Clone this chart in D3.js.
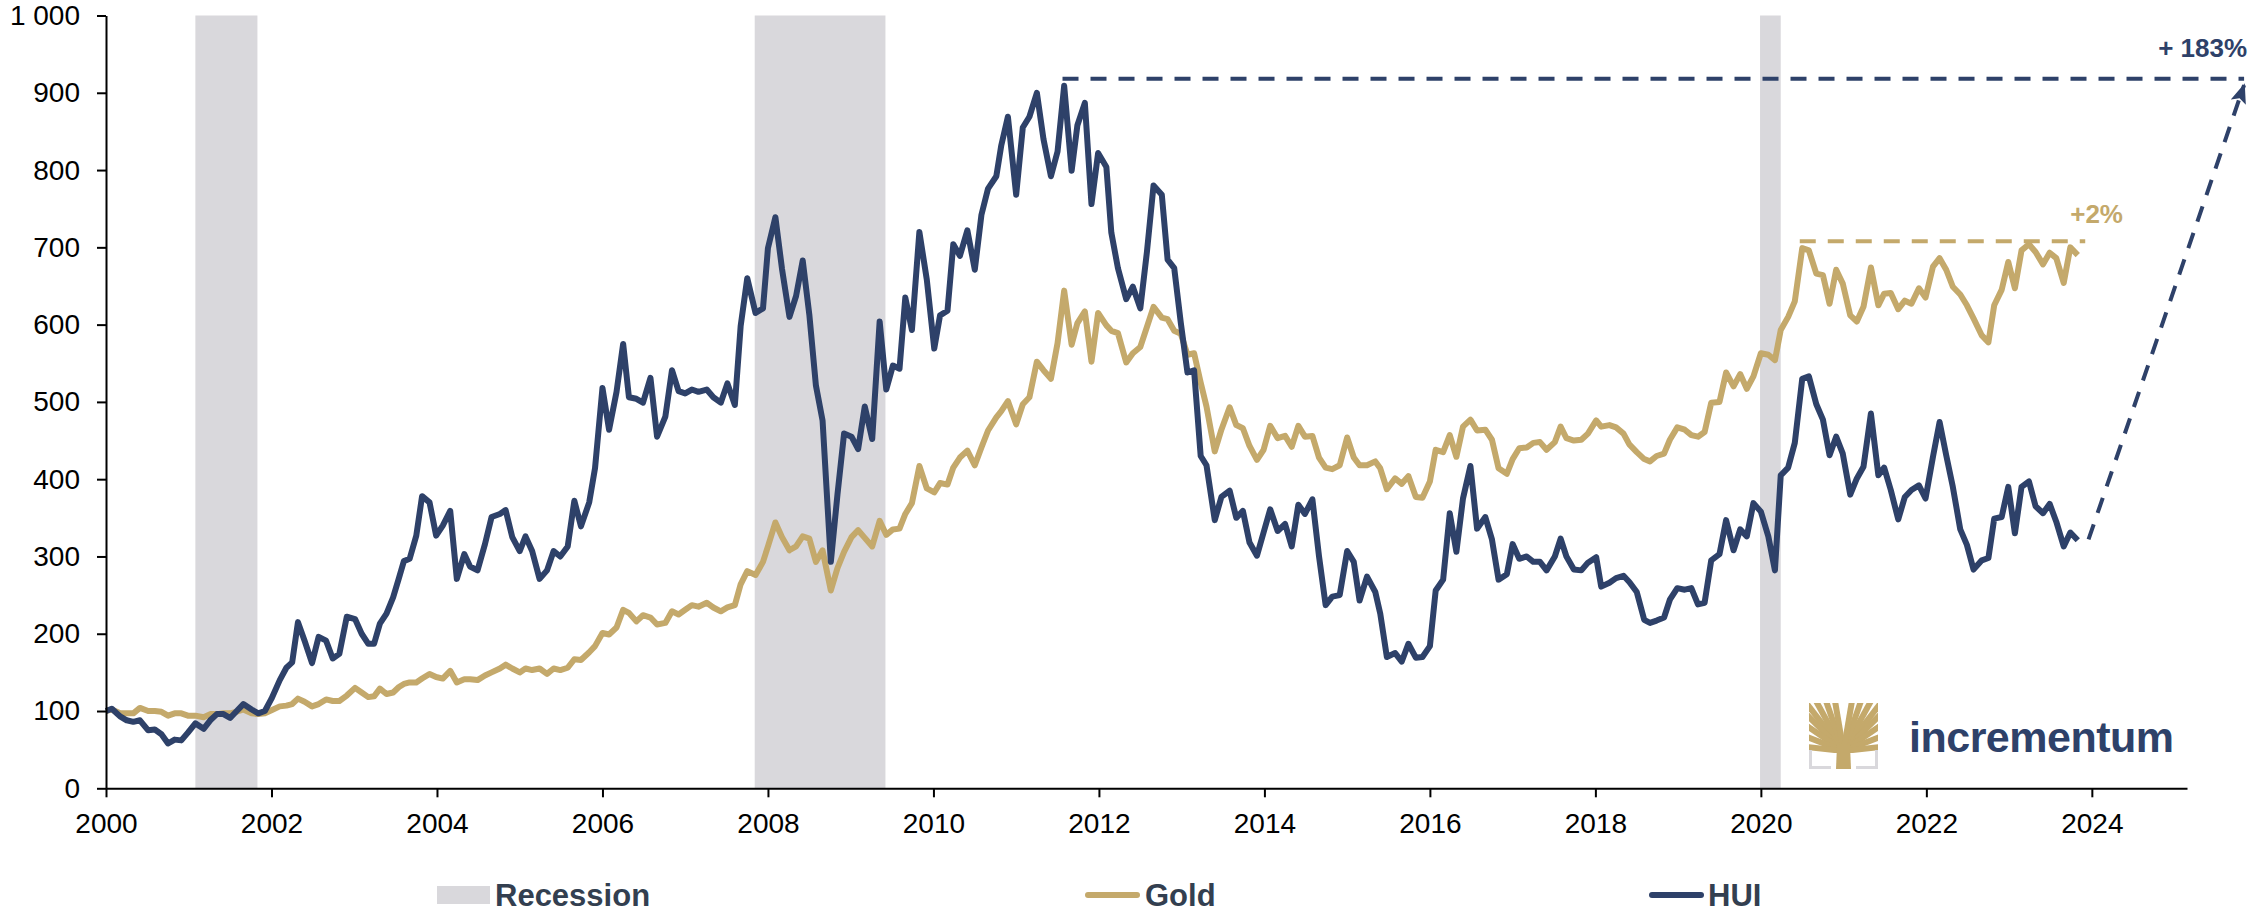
<!DOCTYPE html>
<html><head><meta charset="utf-8">
<script src="https://cdn.jsdelivr.net/npm/d3@7"></script>
<style>
body{margin:0;background:#fff}
svg{display:block}
text{font-family:"Liberation Sans",Arial,Helvetica,sans-serif}
</style>
</head><body>
<svg id="chart" width="2249" height="912"></svg>
<script>
// ---------------- DATA ----------------
const dates = [
 2000.00,2000.07,2000.17,2000.25,2000.33,2000.41,2000.51,2000.59,2000.67,2000.75,2000.83,2000.91,
 2000.99,2001.08,2001.18,2001.26,2001.34,2001.42,2001.50,2001.58,2001.66,2001.76,2001.84,2001.92,
 2002.00,2002.10,2002.18,2002.25,2002.32,2002.40,2002.49,2002.57,2002.66,2002.74,2002.82,2002.91,
 2003.01,2003.09,2003.17,2003.24,2003.31,2003.39,2003.47,2003.54,2003.60,2003.67,2003.75,2003.82,
 2003.91,2003.99,2004.07,2004.16,2004.24,2004.33,2004.40,2004.49,2004.58,2004.66,2004.76,
 2004.83,2004.91,2005.00,2005.07,2005.15,2005.24,2005.33,2005.41,2005.49,2005.58,2005.66,2005.74,
 2005.84,2005.91,2006.00,2006.08,2006.17,2006.25,2006.32,2006.41,2006.49,2006.58,2006.66,2006.76,
 2006.84,2006.92,2007.00,2007.08,2007.16,2007.26,2007.34,2007.43,2007.51,2007.60,2007.67,2007.75,
 2007.85,2007.94,2008.00,2008.09,2008.17,2008.26,2008.34,2008.42,2008.50,2008.58,2008.66,2008.76,
 2008.84,2008.92,2009.01,2009.09,2009.17,2009.26,2009.35,2009.43,2009.51,2009.59,
 2009.66,2009.74,2009.83,2009.92,2010.01,2010.08,2010.17,2010.24,2010.32,2010.41,2010.50,2010.58,
 2010.66,2010.76,2010.82,2010.90,2011.00,2011.08,2011.16,2011.25,2011.33,2011.42,2011.50,2011.58,
 2011.67,2011.74,2011.83,2011.91,2011.99,2012.09,2012.15,2012.23,2012.33,2012.41,2012.50,2012.58,
 2012.66,2012.76,2012.83,2012.91,2012.99,2013.07,2013.15,2013.23,2013.30,2013.40,2013.48,2013.58,
 2013.66,2013.74,2013.82,2013.91,2013.99,2014.07,2014.16,2014.25,2014.33,2014.41,
 2014.49,2014.58,2014.66,2014.74,2014.82,2014.91,2015.00,2015.08,2015.15,2015.24,2015.34,2015.40,
 2015.48,2015.58,2015.66,2015.74,2015.83,2015.91,2016.00,2016.07,2016.16,2016.24,2016.32,2016.40,
 2016.49,2016.57,2016.67,2016.75,2016.83,2016.93,2017.00,2017.08,2017.17,2017.25,2017.33,2017.41,
 2017.51,2017.58,2017.65,2017.74,2017.83,2017.91,2018.01,2018.07,2018.17,2018.25,2018.34,2018.41,
 2018.50,2018.59,2018.66,2018.74,2018.83,2018.90,2018.99,2019.08,2019.16,2019.24,
 2019.32,2019.40,2019.50,2019.58,2019.67,2019.75,2019.83,2019.91,2020.00,2020.09,2020.17,2020.24,
 2020.33,2020.41,2020.50,2020.58,2020.67,2020.75,2020.83,2020.91,2020.99,2021.08,2021.16,2021.24,
 2021.33,2021.42,2021.49,2021.57,2021.66,2021.74,2021.82,2021.91,2021.99,2022.08,2022.16,2022.24,
 2022.32,2022.41,2022.49,2022.57,2022.67,2022.75,2022.82,2022.91,2022.99,2023.07,2023.15,2023.24,
 2023.32,2023.41,2023.49,2023.57,2023.66,2023.74,2023.83
];
const huiValues = [
 100,103,93,88,86,88,75,76,70,58,63,62,
 72,84,77,88,96,96,91,100,109,102,97,100,
 116,140,156,163,215,191,162,196,191,168,174,222,
 219,200,187,187,213,226,247,272,294,297,327,378,
 370,327,340,359,271,303,287,282,316,351,355,
 360,325,307,326,307,271,282,307,300,313,372,339,
 370,414,518,464,513,575,506,504,499,531,455,481,
 541,514,511,516,513,516,506,499,524,496,598,660,
 615,621,699,739,672,610,637,683,613,521,476,293,
 380,459,455,439,494,452,604,516,547,543,
 635,593,720,658,569,612,618,704,689,722,671,742,
 776,792,832,869,768,855,869,900,840,792,824,909,
 799,858,887,756,822,804,719,673,633,649,621,694,
 780,768,684,673,602,538,541,430,418,347,377,385,
 350,359,318,301,331,361,333,342,313,367,
 355,374,300,237,248,250,307,293,243,274,254,226,
 170,175,164,187,169,170,184,256,270,356,306,375,
 417,336,351,322,270,277,316,297,300,293,293,282,
 300,323,300,283,282,292,299,261,266,272,275,267,
 254,218,214,217,221,244,259,257,259,238,
 240,295,303,347,308,335,326,369,358,326,282,405,
 415,447,530,533,497,477,431,455,433,380,401,416,
 485,405,415,386,348,377,386,392,375,429,474,431,
 390,335,315,283,295,298,349,351,390,330,390,397,
 365,356,368,345,313,331,321
];
const goldValues = [
 100,102,97,97,97,104,100,100,99,94,97,97,
 94,94,92,96,96,97,97,99,102,97,96,97,
 101,106,107,109,116,112,106,109,115,113,113,120,
 130,124,118,119,129,122,124,131,135,137,137,142,
 148,144,142,152,137,141,141,140,146,150,155,
 160,155,150,155,153,155,148,155,153,156,167,166,
 176,184,201,199,208,231,227,216,224,221,212,214,
 229,225,231,237,235,240,234,229,234,237,264,281,
 276,293,313,344,325,308,313,326,323,293,308,256,
 285,306,325,334,324,313,346,328,335,336,
 355,369,417,388,383,395,393,415,428,437,418,441,
 463,480,488,501,471,497,506,552,541,530,576,644,
 574,602,617,552,615,599,592,589,551,563,571,597,
 623,609,607,592,588,561,563,525,494,436,464,493,
 470,466,443,425,438,469,453,456,442,469,
 455,456,428,415,413,418,454,428,418,418,423,414,
 387,401,394,404,377,376,397,438,435,457,429,468,
 477,463,464,451,414,407,426,440,441,447,448,438,
 448,468,453,450,451,459,476,468,470,467,459,445,
 435,426,423,430,433,451,467,464,457,455,
 461,499,500,538,520,536,517,533,563,561,554,593,
 610,630,699,696,666,664,627,671,653,612,604,623,
 674,625,640,641,620,631,627,647,635,675,686,671,
 649,639,625,608,586,577,625,645,681,647,696,704,
 694,678,693,686,654,700,690
];
const recessionStarts = [2001.08, 2007.84, 2019.99];
const recessionEnds   = [2001.83, 2009.42, 2020.24];
const yTicks = [0,100,200,300,400,500,600,700,800,900,1000];
const xTicks = [2000,2002,2004,2006,2008,2010,2012,2014,2016,2018,2020,2022,2024];
const legendLabels = ["Recession","Gold","HUI"];
// annotation levels (data units)
const huiPeakLevel = 918, huiPeakFrom = 2011.56, huiPeakTo = 2025.84;
const huiArrowFrom = [2023.96, 322], huiArrowTo = [2025.84, 910];
const goldPeakLevel = 708, goldPeakFrom = 2020.47, goldPeakTo = 2023.92;
const huiGainLabel = "+ 183%", goldGainLabel = "+2%";

// ---------------- STYLE ----------------
const NAVY = "#2e4169", GOLD = "#c4a96b", GREY = "#d9d8dc", LEG = "#333f50";

const svg = d3.select("#chart");
svg.append("rect").attr("width",2249).attr("height",912).attr("fill","#fff");

const x = d3.scaleLinear().domain([2000, 2025.15]).range([106, 2187]);
const y = d3.scaleLinear().domain([0, 1000]).range([788.3, 15.5]);

// recessions
svg.append("g").selectAll("rect").data(recessionStarts).join("rect")
  .attr("x", (d)=>x(d)).attr("width",(d,i)=>x(recessionEnds[i])-x(d))
  .attr("y", y(1000)).attr("height", y(0)-y(1000)).attr("fill", GREY);

// lines
const idx = d3.range(dates.length);
const lineOf = vals => d3.line().x(i=>x(dates[i])).y(i=>y(vals[i]));
svg.append("path").datum(idx).attr("d", lineOf(goldValues))
  .attr("fill","none").attr("stroke",GOLD).attr("stroke-width",6).attr("stroke-linejoin","round");
svg.append("path").datum(idx).attr("d", lineOf(huiValues))
  .attr("fill","none").attr("stroke",NAVY).attr("stroke-width",6).attr("stroke-linejoin","round");

// dashed annotations
svg.append("line").attr("x1",x(huiPeakFrom)).attr("x2",x(huiPeakTo))
  .attr("y1",y(huiPeakLevel)).attr("y2",y(huiPeakLevel))
  .attr("stroke",NAVY).attr("stroke-width",4).attr("stroke-dasharray","16,12");
svg.append("line").attr("x1",x(goldPeakFrom)).attr("x2",x(goldPeakTo))
  .attr("y1",y(goldPeakLevel)).attr("y2",y(goldPeakLevel))
  .attr("stroke",GOLD).attr("stroke-width",4).attr("stroke-dasharray","16,12");

const defs = svg.append("defs");
defs.append("marker").attr("id","arr").attr("markerUnits","userSpaceOnUse")
  .attr("viewBox","0 0 20 16").attr("refX",18).attr("refY",8)
  .attr("markerWidth",20).attr("markerHeight",16).attr("orient","auto")
  .append("path").attr("d","M0,0 L20,8 L0,16 L4,8 Z").attr("fill",NAVY);
svg.append("line")
  .attr("x1",x(huiArrowFrom[0])).attr("y1",y(huiArrowFrom[1]))
  .attr("x2",x(huiArrowTo[0])).attr("y2",y(huiArrowTo[1]))
  .attr("stroke",NAVY).attr("stroke-width",4).attr("stroke-dasharray","16,12")
  .attr("marker-end","url(#arr)");

svg.append("text").attr("x",x(huiPeakTo)+3).attr("y",y(huiPeakLevel)-22)
  .attr("text-anchor","end").attr("font-size",26).attr("font-weight","bold")
  .attr("fill",NAVY).text(huiGainLabel);
svg.append("text").attr("x",x(goldPeakTo)-15).attr("y",y(goldPeakLevel)-18)
  .attr("text-anchor","start").attr("font-size",26).attr("font-weight","bold")
  .attr("fill",GOLD).text(goldGainLabel);

// axes
const fmt = d3.formatLocale({decimal:".",thousands:" ",grouping:[3],currency:["",""]}).format(",d");
const yAxis = svg.append("g").attr("transform",`translate(${x(2000)},0)`)
  .call(d3.axisLeft(y).tickValues(yTicks).tickFormat(fmt).tickSize(9).tickSizeOuter(0).tickPadding(17));
const xAxis = svg.append("g").attr("transform",`translate(0,${y(0)})`)
  .call(d3.axisBottom(x).tickValues(xTicks).tickFormat(d3.format("d")).tickSize(9).tickSizeOuter(0).tickPadding(16));
[yAxis,xAxis].forEach(g=>{
  g.selectAll("path,line").attr("stroke","#000").attr("stroke-width",2);
  g.selectAll("text").attr("font-size",28).attr("fill","#000")
   .attr("font-family",'"Liberation Sans",Arial,sans-serif');
});

// legend
const lg = svg.append("g");
lg.append("rect").attr("x",437).attr("y",886).attr("width",53).attr("height",18).attr("fill",GREY);
lg.append("line").attr("x1",1088).attr("x2",1137).attr("y1",895).attr("y2",895)
  .attr("stroke",GOLD).attr("stroke-width",6).attr("stroke-linecap","round");
lg.append("line").attr("x1",1652).attr("x2",1701).attr("y1",895).attr("y2",895)
  .attr("stroke",NAVY).attr("stroke-width",6).attr("stroke-linecap","round");
const legX = [495, 1145, 1708];
lg.selectAll("text.l").data(legendLabels).join("text").attr("class","l")
  .attr("x",(d,i)=>legX[i]).attr("y",906).attr("font-size",31).attr("font-weight","bold")
  .attr("fill",LEG).text(d=>d);

// logo
const logo = svg.append("g").attr("transform","translate(1809,703)");
defs.append("clipPath").attr("id","treeclip").append("rect").attr("x",0).attr("y",0).attr("width",69).attr("height",50);
const tree = logo.append("g").attr("clip-path","url(#treeclip)");
const ends = [[-2,1],[-2,12],[-2,23],[-2,34],[-2,44],[7,-2],[17,-2],[26,-2],
              [71,1],[71,12],[71,23],[71,34],[71,44],[62,-2],[52,-2],[43,-2]];
ends.forEach(([ex,ey])=>{
  const sx = 34.5, sy = 48;
  const cx = sx + (ex-sx)*0.2, cy = ey + (sy-ey)*0.8;
  tree.append("path").attr("d",`M${sx},${sy} Q${cx},${cy} ${ex},${ey}`)
    .attr("fill","none").attr("stroke",GOLD).attr("stroke-width",6);
});
logo.append("path").attr("d","M27,66 L28,42 L41,42 L42,66 Z").attr("fill",GOLD);
logo.append("path").attr("d","M1.5,47 V64.5 H22").attr("fill","none").attr("stroke",GREY).attr("stroke-width",3);
logo.append("path").attr("d","M67.5,47 V64.5 H47").attr("fill","none").attr("stroke",GREY).attr("stroke-width",3);
svg.append("text").attr("x",1909).attr("y",752).attr("font-size",43).attr("font-weight","bold")
  .attr("letter-spacing",-0.5).attr("fill",NAVY).text("incrementum");
</script>
</body></html>
